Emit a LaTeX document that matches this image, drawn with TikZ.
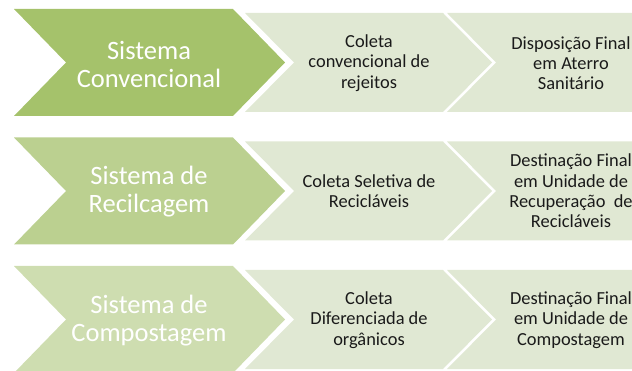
\documentclass[tikz,border=0pt]{standalone}
\usepackage{fontspec}
\setmainfont{Carlito}
\definecolor{rowA}{HTML}{A5C26B}
\definecolor{rowB}{HTML}{BBD090}
\definecolor{rowC}{HTML}{CEDDB0}
\definecolor{stepfill}{HTML}{E0E8D3}
\definecolor{txtdark}{HTML}{1A1A1A}
\newcommand\mychev[6]{\fill[#6] (#1,{#4-#5}) -- (#2,{#4-#5}) -- ({#2+#3},#4) -- (#2,{#4+#5}) -- (#1,{#4+#5}) -- ({#1+#3},#4) -- cycle;}
\begin{document}
\begin{tikzpicture}[x=1pt,y=-1pt,
  bigtxt/.style={text=white,font=\fontsize{26.5}{28}\selectfont,align=center,inner sep=0pt},
  smalltxt/.style={text=txtdark,font=\fontsize{18.4}{20.3}\selectfont,align=center,inner sep=0pt}]
\useasboundingbox (0,0) rectangle (632,371);
\clip (0,0) rectangle (632,371);
% row 1
\mychev{14}{233}{52}{62.5}{53.5}{rowA}
\mychev{245}{443}{49}{62.5}{49.5}{stepfill}
\mychev{447}{645}{49}{62.5}{49.5}{stepfill}
% row 2
\mychev{14}{233}{52}{191}{53.5}{rowB}
\mychev{245}{443}{49}{191}{49.5}{stepfill}
\mychev{447}{645}{49}{191}{49.5}{stepfill}
% row 3
\mychev{14}{233}{52}{319.5}{53.5}{rowC}
\mychev{245}{443}{49}{319.5}{49.5}{stepfill}
\mychev{447}{645}{49}{319.5}{49.5}{stepfill}
% texts
\node[bigtxt] (s1) at (149,64) {Sistema\\Convencional};
\node[smalltxt] (c1) at (369,63) {Coleta\\convencional de\\rejeitos};
\node[smalltxt] (d1) at (571,63) {Disposição Final\\em Aterro\\Sanitário};
\node[bigtxt] (s2) at (149,192) {Sistema de\\Recilcagem};
\node[smalltxt] (c2) at (369,191) {Coleta Seletiva de\\Recicláveis};
\node[smalltxt] (d2) at (571,191) {Destinação Final\\em Unidade de\\Recuperação\ \ de\\Recicláveis};
\node[bigtxt] (s3) at (149,321) {Sistema de\\Compostagem};
\node[smalltxt] (c3) at (369,320) {Coleta\\Diferenciada de\\orgânicos};
\node[smalltxt] (d3) at (571,320) {Destinação Final\\em Unidade de\\Compostagem};
\end{tikzpicture}
\end{document}
